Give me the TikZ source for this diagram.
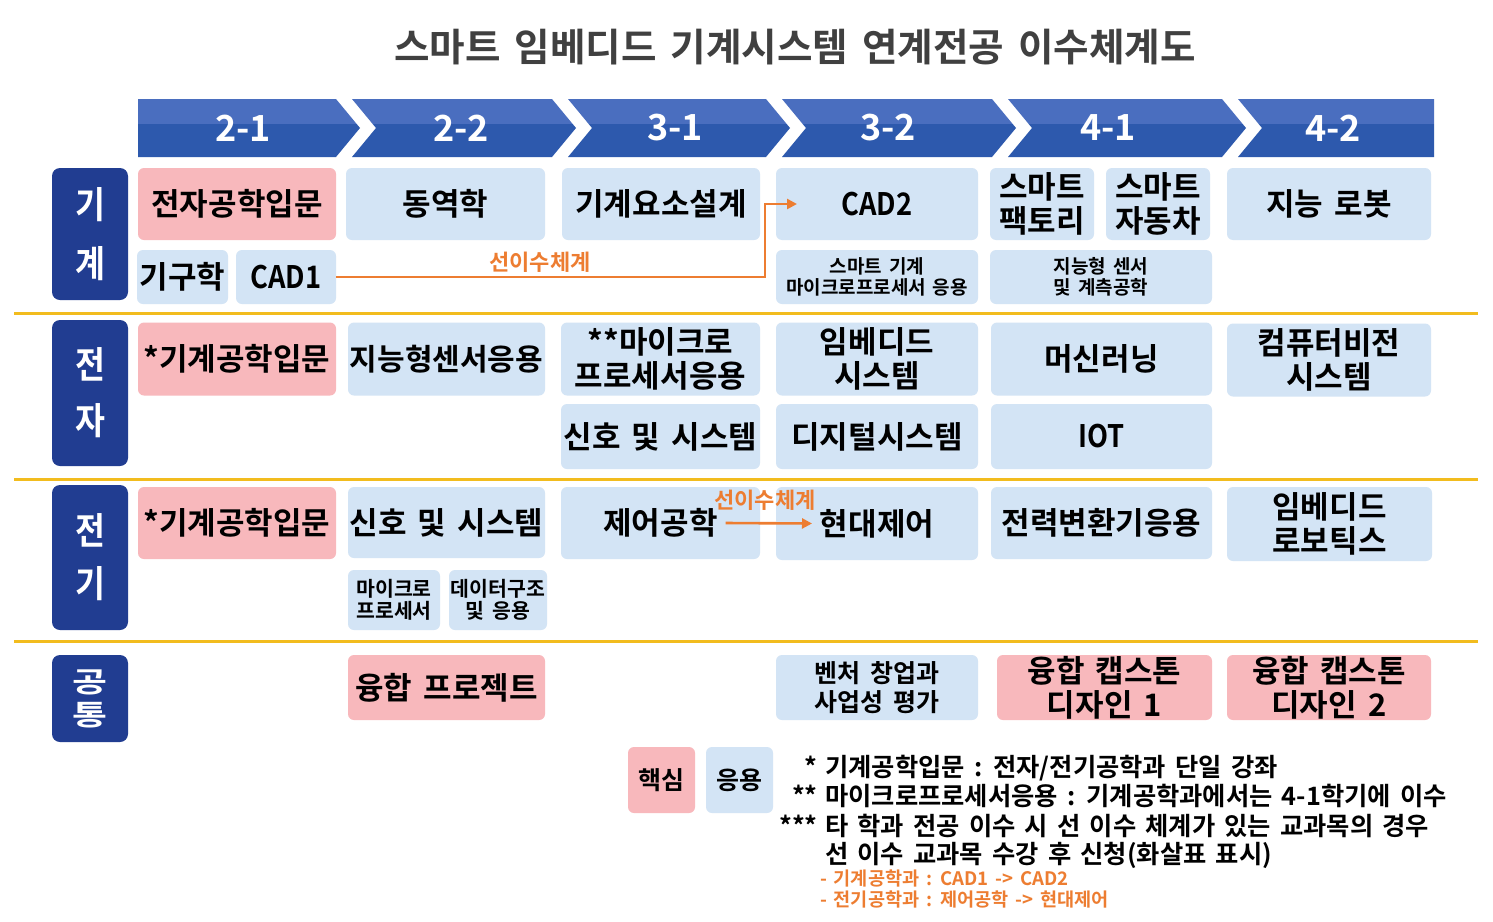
\documentclass[tikz,border=0pt]{standalone}
\usepackage{fontspec}
\setmainfont{Noto Sans CJK KR}[UprightFont=* Bold, WordSpace=1.6]
\newfontfamily\hdrfont{Noto Sans CJK KR}[UprightFont=* Bold]
\newfontfamily\narrowfont{Noto Sans CJK KR}[UprightFont=* Bold, FakeStretch=0.88]
\usetikzlibrary{arrows.meta}
\definecolor{navyc}{HTML}{213D91}
\definecolor{chevL}{HTML}{4A6EBF}
\definecolor{chevD}{HTML}{2D59AD}
\definecolor{pinkc}{HTML}{F8B8BC}
\definecolor{bluec}{HTML}{D3E4F5}
\definecolor{goldc}{HTML}{F2BC1E}
\definecolor{orangec}{HTML}{ED7D31}
\definecolor{titlec}{HTML}{404040}
\newcommand\fsz[2]{\fontsize{#1}{#2}\selectfont}
\tikzset{
  cbox/.style={rounded corners=6pt, inner sep=0pt, align=center, font=\fsz{31}{34}},
  pk/.style={cbox, fill=pinkc},
  bl/.style={cbox, fill=bluec},
  lat/.style={font=\narrowfont\fsz{31}{34}},
  sz/.style 2 args={minimum width=#1pt, minimum height=#2pt},
  side/.style={fill=navyc, rounded corners=8pt, text=white, inner sep=0pt, align=center, minimum width=76pt},
  hdr/.style={text=white, font=\hdrfont\fsz{36}{40}},
  sep/.style={draw=goldc, line width=3pt},
  prer/.style={draw=orangec, line width=2.6pt, -{Triangle[length=10pt,width=10pt]}},
  prelabel/.style={text=orangec, font=\fsz{22}{24}},
  legtxt/.style={font=\fsz{25.3}{28}, anchor=base west, inner sep=0pt},
  legstar/.style={font=\fsz{25.3}{28}, anchor=base east, inner sep=0pt},
  legor/.style={font=\fsz{18.6}{20}, text=orangec, anchor=base west, inner sep=0pt},
}
\begin{document}
\begin{tikzpicture}[x=1pt,y=-1pt]
\useasboundingbox (0,0) rectangle (1493,921);
\fill[white] (0,0) rectangle (1493,921);

% title
\node[text=titlec, font=\fsz{38.6}{40}] (title) at (795,47) {스마트 임베디드 기계시스템 연계전공 이수체계도};

% chevron banner
\begin{scope}
\clip (138,99) -- (336,99) -- (360,128) -- (336,157) -- (138,157) -- cycle
      (352,99) -- (552,99) -- (576,128) -- (552,157) -- (352,157) -- (376,128) -- cycle
      (568,99) -- (766,99) -- (790,128) -- (766,157) -- (568,157) -- (592,128) -- cycle
      (782,99) -- (992,99) -- (1016,128) -- (992,157) -- (782,157) -- (806,128) -- cycle
      (1008,99) -- (1222,99) -- (1246,128) -- (1222,157) -- (1008,157) -- (1032,128) -- cycle
      (1238,99) -- (1434,99) -- (1434,157) -- (1238,157) -- (1262,128) -- cycle;
\fill[chevL] (130,95) rectangle (1440,124);
\fill[chevD] (130,124) rectangle (1440,160);
\end{scope}
\node[hdr] (h1) at (243,128) {2-1};
\node[hdr] (h2) at (461,128) {2-2};
\node[hdr] (h3) at (675,128) {3-1};
\node[hdr] (h4) at (888,128) {3-2};
\node[hdr] (h5) at (1108,128) {4-1};
\node[hdr] (h6) at (1333,128) {4-2};

% separators
\draw[sep] (14,313) -- (1478,313);
\draw[sep] (14,479) -- (1478,479);
\draw[sep] (14,641) -- (1478,641);

% side labels
\node[side, minimum height=132pt, font=\narrowfont\fsz{37}{59}] (s1) at (90,234) {기\\계};
\node[side, minimum height=146pt, font=\narrowfont\fsz{37}{56}] (s2) at (90,393) {전\\자};
\node[side, minimum height=145pt, font=\narrowfont\fsz{37}{53}] (s3) at (90,557.5) {전\\기};
\node[side, minimum height=87pt, font=\hdrfont\fsz{38}{33}] (s4) at (90,698.5) {\scalebox{1}[0.75]{공}\\\scalebox{1}[0.75]{통}};

% row 기계
\node[pk, sz={198}{72}] (m1) at (237,204) {전자공학입문};
\node[bl, sz={199}{72}] (m2) at (445.5,204) {동역학};
\node[bl, sz={198}{72}] (m3) at (661,204) {기계요소설계};
\node[bl, sz={202}{72}, lat] (m4) at (877,204) {CAD2};
\node[bl, sz={104}{72}] (m5a) at (1042,204) {스마트\\팩토리};
\node[bl, sz={104}{72}] (m5b) at (1158,204) {스마트\\자동차};
\node[bl, sz={204}{72}] (m6) at (1329,204) {지능 로봇};
\node[bl, sz={91}{54}] (m7) at (182.5,277) {기구학};
\node[bl, sz={100}{54}, lat] (m8) at (286,277) {CAD1};
\node[bl, sz={202}{54}, font=\fsz{19}{21}] (m9) at (877,277) {스마트 기계\\마이크로프로세서 응용};
\node[bl, sz={222}{54}, font=\fsz{19}{21}] (m10) at (1101,277) {지능형 센서\\및 계측공학};

% row 전자
\node[pk, sz={198}{73}] (e1) at (237,359) {*기계공학입문};
\node[bl, sz={197}{73}, font=\fsz{30}{34}] (e2) at (446.5,359) {지능형센서응용};
\node[bl, sz={199}{73}] (e3) at (660.5,359) {**마이크로\\프로세서응용};
\node[bl, sz={202}{73}] (e4) at (877,359) {임베디드\\시스템};
\node[bl, sz={221}{73}] (e5) at (1101.5,359) {머신러닝};
\node[bl, sz={204}{73}] (e6) at (1329,360) {컴퓨터비전\\시스템};
\node[bl, sz={199}{65}] (e7) at (660.5,436.5) {신호 및 시스템};
\node[bl, sz={202}{65}] (e8) at (877,436.5) {디지털시스템};
\node[bl, sz={221}{65}, lat] (e9) at (1101.5,436.5) {IOT};

% row 전기
\node[pk, sz={198}{72}] (c1) at (237,523) {*기계공학입문};
\node[bl, sz={197}{71}] (c2) at (446.5,522.5) {신호 및 시스템};
\node[bl, sz={199}{72}] (c3) at (660.5,523) {제어공학};
\node[bl, sz={202}{73}] (c4) at (877,523.5) {현대제어};
\node[bl, sz={221}{72}] (c5) at (1101.5,523) {전력변환기응용};
\node[bl, sz={205}{74}] (c6) at (1329.5,524) {임베디드\\로보틱스};
\node[bl, sz={92}{60}, font=\fsz{20.5}{22}] (c7) at (394,600) {마이크로\\프로세서};
\node[bl, sz={98}{60}, font=\fsz{20.5}{22}] (c8) at (498,600) {데이터구조\\및 응용};

% row 공통
\node[pk, sz={197}{65}] (g1) at (446.5,687.5) {융합 프로젝트};
\node[bl, sz={202}{65}, font=\fsz{25}{29}] (g2) at (877,687.5) {벤처 창업과\\사업성 평가};
\node[pk, sz={215}{65}] (g3) at (1104.5,687.5) {융합 캡스톤\\디자인 1};
\node[pk, sz={204}{65}] (g4) at (1329,687.5) {융합 캡스톤\\디자인 2};

% prerequisite arrows
\coordinate (bend1) at (765,277);
\draw[prer] (m8.east) -- (bend1) |- ([xshift=-80pt]m4.center);
\node[prelabel] (p1) at (540,262) {선이수체계};
\draw[prer] ([xshift=65pt]c3.center) -- ([xshift=-65pt]c4.center);
\node[prelabel] (p2) at (765,500) {선이수체계};

% legend
\node[pk, sz={67}{66}, font=\fsz{25}{27}] (k1) at (661.5,780) {핵심};
\node[bl, sz={67}{66}, font=\fsz{25}{27}] (k2) at (739.5,780) {응용};
\node[legstar] (a1) at (818,776.5) {*};
\node[legtxt] (t1) at (825,776.5) {기계공학입문 : 전자/전기공학과 단일 강좌};
\node[legstar] (a2) at (818,805.5) {**};
\node[legtxt] (t2) at (825,805.5) {마이크로프로세서응용 : 기계공학과에서는 4-1학기에 이수};
\node[legstar] (a3) at (818,835.5) {***};
\node[legtxt] (t3) at (825,835.5) {타 학과 전공 이수 시 선 이수 체계가 있는 교과목의 경우};
\node[legtxt] (t4) at (825,863.5) {선 이수 교과목 수강 후 신청(화살표 표시)};
\node[legor] (o1) at (820,885.5) {- 기계공학과 : CAD1 -> CAD2};
\node[legor] (o2) at (820,906.5) {- 전기공학과 : 제어공학 -> 현대제어};
\end{tikzpicture}
\end{document}
